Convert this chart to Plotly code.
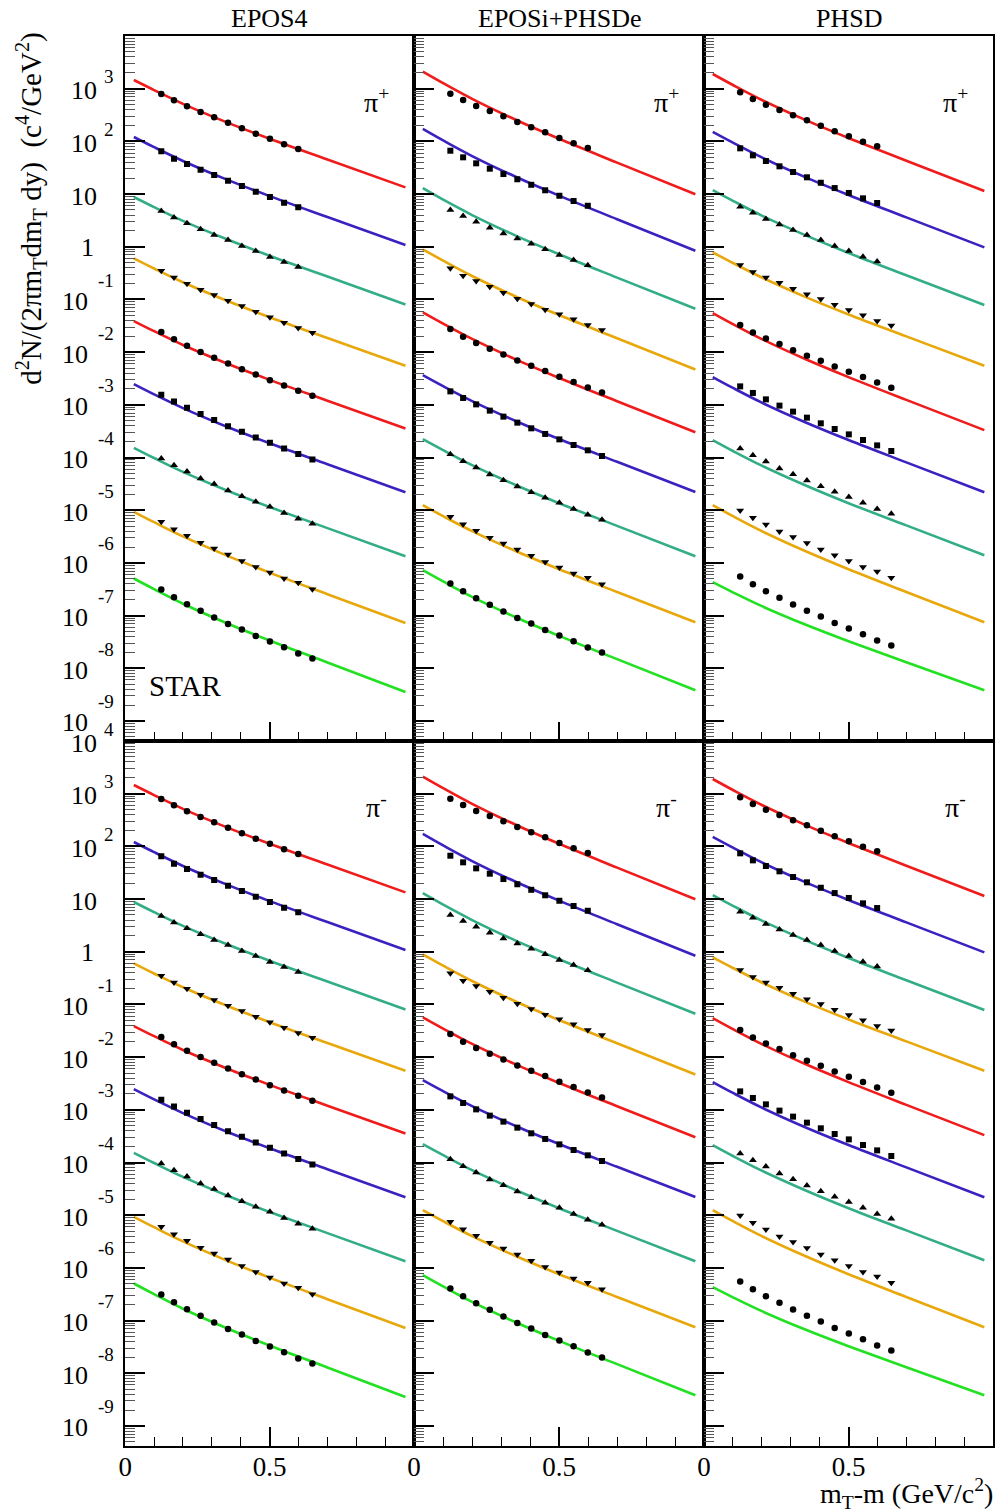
import plotly.graph_objects as go

# ---------------- data ----------------
TITLES = ["EPOS4", "EPOSi+PHSDe", "PHSD"]
PARTICLES = ["π<sup>+</sup>", "π<sup>-</sup>"]

# m_T - m of the STAR points (GeV/c^2)
X_DATA = [0.125, 0.169, 0.214, 0.261, 0.308, 0.356, 0.404, 0.452, 0.501, 0.550, 0.599, 0.648]
# abscissae where the model curves were read
CURVE_X = [0.03, 0.10, 0.20, 0.35, 0.50, 0.70, 0.97]

CURVE_COLORS = ["#f01c1c", "#3b22c0", "#33ad88", "#e8a80c", "#f01c1c",
                "#3b22c0", "#33ad88", "#e8a80c", "#22e022"]
MARKERS = ["circle", "square", "triangle-up", "triangle-down", "circle",
           "square", "triangle-up", "triangle-down", "circle"]

EPOS4_CURVES = [
    [1.46e3, 942, 516, 232, 112, 45.3, 13.4],
    [121, 77.6, 42.5, 19.0, 9.14, 3.66, 1.08],
    [8.79, 5.65, 3.10, 1.40, 0.675, 0.272, 0.0805],
    [0.603, 0.387, 0.212, 0.0955, 0.0461, 0.0185, 5.50e-3],
    [0.0389, 0.0250, 0.0137, 6.17e-3, 2.98e-3, 1.20e-3, 3.55e-4],
    [2.47e-3, 1.58e-3, 8.67e-4, 3.88e-4, 1.87e-4, 7.48e-5, 2.20e-5],
    [1.53e-4, 9.79e-5, 5.33e-5, 2.39e-5, 1.15e-5, 4.57e-6, 1.34e-6],
    [9.33e-6, 5.92e-6, 3.18e-6, 1.39e-6, 6.55e-7, 2.55e-7, 7.24e-8],
    [5.06e-7, 3.18e-7, 1.68e-7, 7.24e-8, 3.36e-8, 1.29e-8, 3.56e-9],
]
EPOSI_CURVES = [
    [2104, 1271, 640, 257, 112, 39.6, 9.89],
    [172, 104, 52.7, 21.3, 9.35, 3.33, 0.839],
    [12.9, 7.83, 4.00, 1.63, 0.723, 0.260, 0.0665],
    [0.893, 0.546, 0.279, 0.114, 0.0506, 0.0183, 4.70e-3],
    [0.0569, 0.0348, 0.0178, 7.29e-3, 3.24e-3, 1.17e-3, 3.02e-4],
    [3.66e-3, 2.26e-3, 1.18e-3, 4.94e-4, 2.24e-4, 8.30e-5, 2.21e-5],
    [2.23e-4, 1.38e-4, 7.18e-5, 3.01e-5, 1.36e-5, 5.04e-6, 1.34e-6],
    [1.25e-5, 7.71e-6, 4.01e-6, 1.68e-6, 7.59e-7, 2.81e-7, 7.48e-8],
    [7.28e-7, 4.45e-7, 2.27e-7, 9.31e-8, 4.13e-8, 1.49e-8, 3.84e-9],
]
PHSD_CURVES = [
    [1901, 1175, 611, 256, 116, 43.0, 11.4],
    [152, 94.8, 49.7, 21.0, 9.62, 3.61, 0.975],
    [11.9, 7.45, 3.91, 1.66, 0.762, 0.288, 0.0782],
    [0.783, 0.492, 0.261, 0.112, 0.0520, 0.0199, 5.51e-3],
    [0.0551, 0.0340, 0.0177, 7.41e-3, 3.36e-3, 1.24e-3, 3.31e-4],
    [3.36e-3, 2.09e-3, 1.10e-3, 4.68e-4, 2.15e-4, 8.09e-5, 2.20e-5],
    [2.14e-4, 1.33e-4, 7.00e-5, 2.98e-5, 1.36e-5, 5.15e-6, 1.40e-6],
    [1.25e-5, 7.71e-6, 4.01e-6, 1.68e-6, 7.59e-7, 2.81e-7, 7.48e-8],
    [4.31e-7, 2.76e-7, 1.51e-7, 6.76e-8, 3.26e-8, 1.30e-8, 3.84e-9],
]

EPOS4_DATA = [
    [792, 603, 463, 361, 286, 226, 177, 140, 112, 88, 72],
    [64.7, 46.9, 37.2, 29.0, 23.0, 17.9, 14.2, 11.1, 8.79, 6.84, 5.60],
    [4.76, 3.61, 2.78, 2.14, 1.67, 1.34, 1.03, 0.828, 0.637, 0.513, 0.412],
    [0.350, 0.262, 0.199, 0.153, 0.121, 0.0944, 0.0748, 0.0583, 0.0457, 0.0361, 0.0286, 0.0233],
    [0.0240, 0.0175, 0.0132, 0.0101, 7.82e-3, 6.11e-3, 4.76e-3, 3.78e-3, 2.94e-3, 2.33e-3, 1.85e-3, 1.48e-3],
    [1.55e-3, 1.16e-3, 8.77e-4, 6.67e-4, 5.13e-4, 3.94e-4, 3.08e-4, 2.40e-4, 1.90e-4, 1.49e-4, 1.17e-4, 9.2e-5],
    [9.6e-5, 7.16e-5, 5.44e-5, 4.01e-5, 3.13e-5, 2.37e-5, 1.85e-5, 1.44e-5, 1.16e-5, 8.9e-6, 6.86e-6, 5.51e-6],
    [6.01e-6, 4.37e-6, 3.26e-6, 2.40e-6, 1.88e-6, 1.45e-6, 1.09e-6, 8.4e-7, 6.58e-7, 5.06e-7, 4.18e-7, 3.17e-7],
    [3.13e-7, 2.23e-7, 1.64e-7, 1.23e-7, 9.2e-8, 6.95e-8, 5.45e-8, 4.11e-8, 3.22e-8, 2.51e-8, 1.91e-8, 1.53e-8],
]
EPOSI_DATA = [
    [804, 610, 469, 377, 299, 233, 185, 149, 116, 91.8, 74.8],
    [66.5, 49.8, 38.3, 30.3, 24.0, 19.1, 15.0, 11.8, 9.29, 7.38, 6.00],
    [4.98, 3.83, 2.99, 2.30, 1.79, 1.44, 1.14, 0.893, 0.695, 0.558, 0.444],
    [0.389, 0.281, 0.223, 0.174, 0.134, 0.103, 0.0817, 0.0637, 0.0521, 0.0419, 0.0326, 0.0262],
    [0.0274, 0.0195, 0.0149, 0.0116, 9.06e-3, 6.97e-3, 5.51e-3, 4.37e-3, 3.40e-3, 2.70e-3, 2.14e-3, 1.72e-3],
    [1.80e-3, 1.35e-3, 1.02e-3, 7.76e-4, 5.97e-4, 4.59e-4, 3.58e-4, 2.80e-4, 2.21e-4, 1.73e-4, 1.37e-4, 1.07e-4],
    [1.15e-4, 8.53e-5, 6.49e-5, 4.78e-5, 3.72e-5, 2.82e-5, 2.20e-5, 1.72e-5, 1.38e-5, 1.06e-5, 8.17e-6, 6.56e-6],
    [7.48e-6, 5.43e-6, 4.06e-6, 2.99e-6, 2.34e-6, 1.80e-6, 1.36e-6, 1.04e-6, 8.18e-7, 6.30e-7, 5.20e-7, 3.94e-7],
    [4.06e-7, 2.90e-7, 2.14e-7, 1.60e-7, 1.20e-7, 9.04e-8, 7.08e-8, 5.35e-8, 4.19e-8, 3.27e-8, 2.48e-8, 1.99e-8],
]
PHSD_DATA = [
    [853, 637, 497, 394, 313, 251, 198, 155, 125, 98.6, 80.5],
    [73.8, 54.3, 42.4, 33.6, 26.2, 20.8, 16.4, 13.0, 10.5, 8.30, 6.76],
    [5.74, 4.43, 3.36, 2.66, 2.07, 1.67, 1.34, 1.03, 0.828, 0.646, 0.528],
    [0.450, 0.331, 0.262, 0.207, 0.160, 0.126, 0.102, 0.0793, 0.0628, 0.0499, 0.0388, 0.0322],
    [0.0326, 0.0237, 0.0182, 0.0142, 0.0109, 8.53e-3, 6.85e-3, 5.36e-3, 4.24e-3, 3.36e-3, 2.66e-3, 2.12e-3],
    [2.24e-3, 1.68e-3, 1.27e-3, 9.66e-4, 7.43e-4, 5.71e-4, 4.46e-4, 3.48e-4, 2.75e-4, 2.15e-4, 1.70e-4, 1.33e-4],
    [1.49e-4, 1.11e-4, 8.43e-5, 6.21e-5, 4.84e-5, 3.67e-5, 2.86e-5, 2.23e-5, 1.79e-5, 1.38e-5, 1.06e-5, 8.53e-6],
    [9.93e-6, 7.21e-6, 5.38e-6, 3.96e-6, 3.10e-6, 2.39e-6, 1.80e-6, 1.39e-6, 1.09e-6, 8.36e-7, 6.90e-7, 5.24e-7],
    [5.52e-7, 3.94e-7, 2.90e-7, 2.17e-7, 1.63e-7, 1.23e-7, 9.62e-8, 7.26e-8, 5.69e-8, 4.44e-8, 3.37e-8, 2.70e-8],
]

# pi- spectra read identical to pi+ at this resolution
PANELS = [
    (EPOS4_CURVES, EPOS4_DATA), (EPOSI_CURVES, EPOSI_DATA), (PHSD_CURVES, PHSD_DATA),
    (EPOS4_CURVES, EPOS4_DATA), (EPOSI_CURVES, EPOSI_DATA), (PHSD_CURVES, PHSD_DATA),
]

Y_DECADES_TOP = list(range(3, -10, -1))
Y_DECADES_BOTTOM = list(range(4, -10, -1))

# ---------------- layout geometry (pixels) ----------------
W, H = 995, 1512
COL_EDGES = [(119, 410), (410, 702), (702, 993)]
ROW_EDGES = [(36, 741), (741, 1446)]
YRANGE = [-9.38, 4.0]
FONT = "Liberation Serif, Times New Roman, serif"


def px(x):
    return x / W


def py(y):
    return 1 - y / H


fig = go.Figure()
layout = dict(width=W, height=H, margin=dict(l=0, r=0, t=0, b=0),
              paper_bgcolor="white", plot_bgcolor="white", showlegend=False,
              font=dict(family=FONT, color="black"))
annotations = []

minor_y = [m * 10.0 ** k for k in range(-10, 5) for m in range(2, 10)]
major_y = [10.0 ** k for k in range(-10, 5)]

for n in range(1, 7):
    col = (n - 1) % 3
    row = (n - 1) // 3
    curves, data = PANELS[n - 1]
    xa = "x" if n == 1 else f"x{n}"
    ya = "y" if n == 1 else f"y{n}"
    for i in range(9):
        fig.add_trace(go.Scatter(
            x=CURVE_X, y=curves[i], mode="lines", xaxis=xa, yaxis=ya,
            line=dict(color=CURVE_COLORS[i], width=2.6, shape="spline", smoothing=1.0),
            hoverinfo="skip"))
    for i in range(9):
        sym = MARKERS[i]
        size = 6.5 if sym == "circle" else (6 if sym == "square" else 7)
        fig.add_trace(go.Scatter(
            x=X_DATA[:len(data[i])], y=data[i], mode="markers", xaxis=xa, yaxis=ya,
            marker=dict(symbol=sym, size=size, color="black", line=dict(width=0))))

    x0, x1 = COL_EDGES[col]
    y0, y1 = ROW_EDGES[row]
    bottom = row == 1
    layout["xaxis" if n == 1 else f"xaxis{n}"] = dict(
        domain=[px(x0), px(x1)], range=[0, 1], anchor=ya,
        showline=True, mirror=True, linecolor="black", linewidth=2,
        showgrid=False, zeroline=False,
        ticks="inside", ticklen=19, tickwidth=1.5, tickcolor="black",
        tickvals=[0, 0.5], ticktext=["0", "0.5"],
        showticklabels=bottom, tickfont=dict(size=27, family=FONT),
        ticklabelstandoff=-4,
        minor=dict(tickvals=[0.1, 0.2, 0.3, 0.4, 0.6, 0.7, 0.8, 0.9],
                   ticks="inside", ticklen=9, tickwidth=1.3, tickcolor="black", showgrid=False))
    layout["yaxis" if n == 1 else f"yaxis{n}"] = dict(
        type="log", domain=[py(y1), py(y0)], range=YRANGE, anchor=xa,
        showline=True, mirror=True, linecolor="black", linewidth=2,
        showgrid=False, zeroline=False,
        ticks="inside", ticklen=20, tickwidth=1.5, tickcolor="black",
        tickvals=major_y, showticklabels=False,
        minor=dict(tickvals=minor_y, ticks="inside", ticklen=10, tickwidth=1.1,
                   tickcolor="#555555", showgrid=False))

    # column titles
    if row == 0:
        annotations.append(dict(text=TITLES[col], xref="paper", yref="paper",
                                x=px((x0 + x1) / 2), y=py(2), xanchor="center", yanchor="top",
                                showarrow=False, font=dict(size=26, family=FONT)))
    # particle label
    annotations.append(dict(text=PARTICLES[row], xref="paper", yref="paper",
                            x=px(x1 - 38), y=py(y0 + 64), xanchor="center", yanchor="middle",
                            showarrow=False, font=dict(size=28, family=FONT)))

# y tick labels (ROOT style) on the first column
for row, decades in enumerate([Y_DECADES_TOP, Y_DECADES_BOTTOM]):
    yref = "y" if row == 0 else "y4"
    for k in decades:
        if k == 0:
            annotations.append(dict(text="1", xref="paper", yref=yref, x=px(89.5), y=k,
                                    xanchor="right", yanchor="middle", yshift=-1,
                                    showarrow=False, font=dict(size=26, family=FONT)))
        elif k > 0:
            annotations.append(dict(text="10", xref="paper", yref=yref, x=px(93), y=k,
                                    xanchor="right", yanchor="middle", yshift=-2,
                                    showarrow=False, font=dict(size=26, family=FONT)))
            if k > 1:
                annotations.append(dict(text=str(k), xref="paper", yref=yref, x=px(96), y=k,
                                        xanchor="left", yanchor="middle", yshift=12,
                                        showarrow=False, font=dict(size=19, family=FONT)))
        else:
            annotations.append(dict(text="10", xref="paper", yref=yref, x=px(84), y=k,
                                    xanchor="right", yanchor="middle", yshift=-2,
                                    showarrow=False, font=dict(size=26, family=FONT)))
            annotations.append(dict(text=str(k), xref="paper", yref=yref, x=px(90), y=k,
                                    xanchor="left", yanchor="middle", yshift=19,
                                    showarrow=False, font=dict(size=19, family=FONT)))

# axis titles and STAR label
annotations.append(dict(
    text="d<sup>2</sup>N/(2πm<sub>T</sub>dm<sub>T</sub> dy)  (c<sup>4</sup>/GeV<sup>2</sup>)",
    xref="paper", yref="paper", x=px(24), y=py(208), textangle=-90,
    xanchor="center", yanchor="middle", showarrow=False, font=dict(size=29, family=FONT)))
annotations.append(dict(text="m<sub>T</sub>-m (GeV/c<sup>2</sup>)", xref="paper", yref="paper",
                        x=px(995), y=py(1493), xanchor="right", yanchor="middle",
                        showarrow=False, font=dict(size=28, family=FONT)))
annotations.append(dict(text="STAR", xref="paper", yref="paper", x=px(141), y=py(686),
                        xanchor="left", yanchor="middle", showarrow=False,
                        font=dict(size=29, family=FONT)))

layout["annotations"] = annotations
fig.update_layout(**layout)
fig.write_html("out.html", config={"displayModeBar": False},
               post_script="document.body.style.margin='0';document.body.style.overflow='hidden';")
